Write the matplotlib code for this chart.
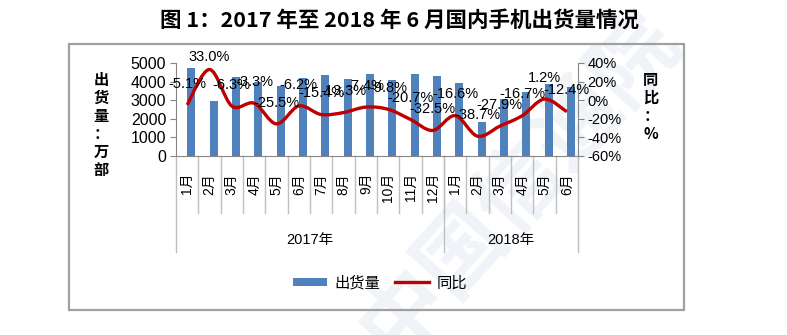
import numpy as np
import matplotlib
matplotlib.use("Agg")
import matplotlib.pyplot as plt
from matplotlib.path import Path
from matplotlib.patches import PathPatch, Rectangle, Patch
from matplotlib.lines import Line2D
import matplotlib.transforms as mtrans

plt.rcParams['font.family'] = ['Liberation Sans', 'Noto Sans CJK SC', 'DejaVu Sans']

# 数据
months = ['1月', '2月', '3月', '4月', '5月', '6月', '7月', '8月', '9月', '10月', '11月', '12月',
          '1月', '2月', '3月', '4月', '5月', '6月']
years = ['2017年', '2018年']
year_sizes = [12, 6]
shipments = [4730, 2970, 4230, 4000, 3740, 4200, 4340, 4140, 4430, 4090, 4400, 4300,
             3940, 1830, 3050, 3430, 3850, 3720]
yoy = [-5.1, 33.0, -6.3, -3.3, -25.5, -6.2, -15.4, -13.3, -7.4, -9.8, -20.7, -32.5,
       -16.6, -38.7, -27.9, -16.7, 1.2, -12.4]

W, H = 787, 335
fig = plt.figure(figsize=(W / 100, H / 100), dpi=100)

def fx(px):
    return px / W

def fy(py):
    return 1 - py / H

# 外框
fig.patches.append(Rectangle((fx(69), fy(310)), fx(684) - fx(69), fy(44) - fy(310),
                             transform=fig.transFigure, fill=False,
                             edgecolor='#a0a0a0', linewidth=1.6, zorder=-2))

# 水印（很淡）
fig.text(0.66, 0.45, '中国信通院', fontsize=62, color='#f0f3f8', rotation=48,
         ha='center', va='center', fontweight='bold', zorder=-3,
         family=['Noto Sans CJK SC'])

fig.text(fx(400), fy(20), '图 1：2017 年至 2018 年 6 月国内手机出货量情况',
         ha='center', va='center', fontsize=15.5, fontweight='bold',
         family=['Noto Sans CJK SC', 'DejaVu Sans'])

ax = fig.add_axes([fx(176), fy(156), fx(578) - fx(176), fy(63) - fy(156)])
ax.patch.set_alpha(0)
ax2 = ax.twinx()

n = len(months)
x = np.arange(n)
gray = '#868686'

ax.bar(x, shipments, width=0.37, align='edge', color='#4f81bd', zorder=2)
ax.set_xlim(-0.5, n - 0.5)
ax.set_ylim(0, 5000)
ax.set_yticks(range(0, 5001, 1000))
ax.tick_params(axis='y', direction='out', length=4, color=gray, labelsize=11.5, pad=3)
ax.set_xticks([])
for s in ['top', 'right']:
    ax.spines[s].set_visible(False)
ax.spines['left'].set_color(gray)
ax.spines['bottom'].set_color(gray)

# 平滑曲线（贝塞尔）
pts = np.column_stack([x, yoy])
verts = [tuple(pts[0])]
codes = [Path.MOVETO]
for i in range(n - 1):
    p0 = pts[max(i - 1, 0)]
    p1 = pts[i]
    p2 = pts[i + 1]
    p3 = pts[min(i + 2, n - 1)]
    c1 = p1 + (p2 - p0) / 6
    c2 = p2 - (p3 - p1) / 6
    verts += [tuple(c1), tuple(c2), tuple(p2)]
    codes += [Path.CURVE4] * 3
ax2.add_patch(PathPatch(Path(verts, codes), fill=False, edgecolor='#c00000',
                        linewidth=2.4, zorder=3, capstyle='butt'))
ax2.set_ylim(-60, 40)
ax2.set_yticks(range(-60, 41, 20))
ax2.set_yticklabels(['%d%%' % v for v in range(-60, 41, 20)])
ax2.tick_params(axis='y', direction='out', length=4, color=gray, labelsize=10.5, pad=3)
for s in ['top', 'left', 'bottom']:
    ax2.spines[s].set_visible(False)
ax2.spines['right'].set_color(gray)

for xi, v in zip(x, yoy):
    ly = min(v + 23, 46)
    ax2.text(xi, ly, '%.1f%%' % v, ha='center', va='center', fontsize=10.5,
             color='black', zorder=5, clip_on=False)

# 分类轴
trans = mtrans.blended_transform_factory(ax.transData, ax.transAxes)
for i, m in enumerate(months):
    ax.text(i, (156 - 173) / 93, m, transform=trans, rotation=90, ha='center',
            va='top', fontsize=10, family=['Liberation Sans', 'Noto Sans CJK SC'])
for i in range(n - 1):
    ax.add_line(Line2D([i + 0.5, i + 0.5], [0, -(213 - 156) / 93], transform=trans,
                       color='#bfbfbf', linewidth=1, clip_on=False))
edges = np.cumsum([0] + year_sizes) - 0.5
for e in edges:
    ax.add_line(Line2D([e, e], [0, -(252 - 156) / 93], transform=trans,
                       color='#bfbfbf', linewidth=1, clip_on=False))
for j, yname in enumerate(years):
    ax.text((edges[j] + edges[j + 1]) / 2, -(240 - 156) / 93, yname, transform=trans,
            ha='center', va='center', fontsize=10.5)

fig.text(fx(101), fy(72), '出\n货\n量\n：\n万\n部', ha='center', va='top',
         fontsize=11, fontweight='bold', linespacing=1.15,
         family=['Noto Sans CJK SC'])
fig.text(fx(651), fy(72), '同\n比\n：\n%', ha='center', va='top',
         fontsize=11, fontweight='bold', linespacing=1.15,
         family=['Noto Sans CJK SC'])

handles = [Patch(facecolor='#4f81bd', edgecolor='none', label='出货量'),
           Line2D([], [], color='#c00000', linewidth=2.4, label='同比')]
fig.legend(handles=handles, loc='center', bbox_to_anchor=(fx(380), fy(283)), ncol=2,
           frameon=False, fontsize=11, handlelength=2.2, handleheight=0.5,
           columnspacing=1.0, handletextpad=0.5)

fig.savefig('out.png', dpi=100)
